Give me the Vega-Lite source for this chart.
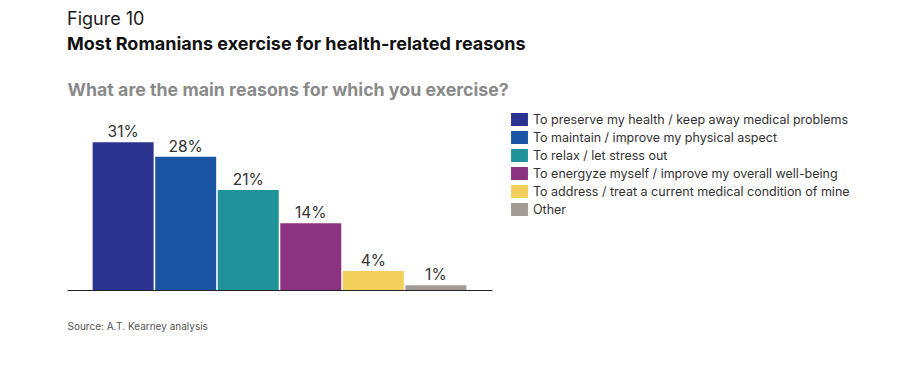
{
  "$schema": "https://vega.github.io/schema/vega-lite/v6.json",
  "width": 425,
  "height": 181,
  "padding": {"left": 67, "top": 11, "right": 20, "bottom": 20},
  "background": "white",
  "title": {
    "text": "Figure 10",
    "subtitle": "Most Romanians exercise for health-related reasons",
    "anchor": "start",
    "frame": "group",
    "font": "Inter",
    "fontSize": 18,
    "fontWeight": "normal",
    "color": "#1a1a1a",
    "subtitleFont": "Inter",
    "subtitleFontSize": 18,
    "subtitleFontWeight": "bold",
    "subtitleColor": "#111111",
    "subtitlePadding": 7,
    "offset": 27
  },
  "data": {
    "values": [
      {"reason": "To preserve my health / keep away medical problems", "value": 31, "label": "31%"},
      {"reason": "To maintain / improve my physical aspect", "value": 28, "label": "28%"},
      {"reason": "To relax / let stress out", "value": 21, "label": "21%"},
      {"reason": "To energyze myself / improve my overall well-being", "value": 14, "label": "14%"},
      {"reason": "To address / treat a current medical condition of mine", "value": 4, "label": "4%"},
      {"reason": "Other", "value": 1, "label": "1%"}
    ]
  },
  "encoding": {
    "x": {
      "field": "reason",
      "type": "nominal",
      "sort": null,
      "scale": {"paddingInner": 0.025, "paddingOuter": 0.41}
    },
    "y": {
      "field": "value",
      "type": "quantitative",
      "scale": {"domain": [0, 38], "nice": false},
      "axis": null
    }
  },
  "layer": [
    {
      "mark": {"type": "bar"},
      "encoding": {
        "x": {
          "field": "reason",
          "type": "nominal",
          "sort": null,
          "axis": {
            "orient": "top",
            "title": "What are the main reasons for which you exercise?",
            "titleAnchor": "start",
            "titleAlign": "left",
            "titleFont": "Inter",
            "titleFontSize": 17.8,
            "titleFontWeight": "bold",
            "titleColor": "#8a8a8a",
            "titlePadding": 10,
            "labels": false,
            "ticks": false,
            "domain": false
          }
        },
        "color": {
          "field": "reason",
          "type": "nominal",
          "sort": null,
          "scale": {
            "domain": [
              "To preserve my health / keep away medical problems",
              "To maintain / improve my physical aspect",
              "To relax / let stress out",
              "To energyze myself / improve my overall well-being",
              "To address / treat a current medical condition of mine",
              "Other"
            ],
            "range": ["#2c3290", "#1955a3", "#20939a", "#8b3281", "#f3cf5c", "#a19a95"]
          },
          "legend": {
            "title": null,
            "orient": "none",
            "legendX": 446,
            "legendY": 4,
            "symbolType": "M-1.3,-1H1.3V1H-1.3Z",
            "symbolSize": 169,
            "symbolStrokeWidth": 0,
            "symbolOpacity": 1,
            "labelFont": "Inter",
            "labelFontSize": 12.5,
            "labelColor": "#333333",
            "labelOffset": 7,
            "labelLimit": 400,
            "rowPadding": 5
          }
        }
      }
    },
    {
      "mark": {"type": "text", "baseline": "alphabetic", "dy": -5, "font": "Inter", "fontSize": 15.5, "color": "#333333"},
      "encoding": {
        "x": {
          "field": "reason",
          "type": "nominal",
          "sort": null,
          "axis": {
            "orient": "bottom",
            "title": "Source: A.T. Kearney analysis",
            "titleAnchor": "start",
            "titleAlign": "left",
            "titleFont": "Inter",
            "titleFontSize": 10,
            "titleFontWeight": "normal",
            "titleColor": "#555555",
            "titlePadding": 31,
            "labels": false,
            "ticks": false,
            "domain": true,
            "domainColor": "#222222",
            "domainWidth": 1.2
          }
        },
        "text": {"field": "label"}
      }
    }
  ],
  "resolve": {"axis": {"x": "independent"}},
  "config": {"view": {"stroke": null}}
}
